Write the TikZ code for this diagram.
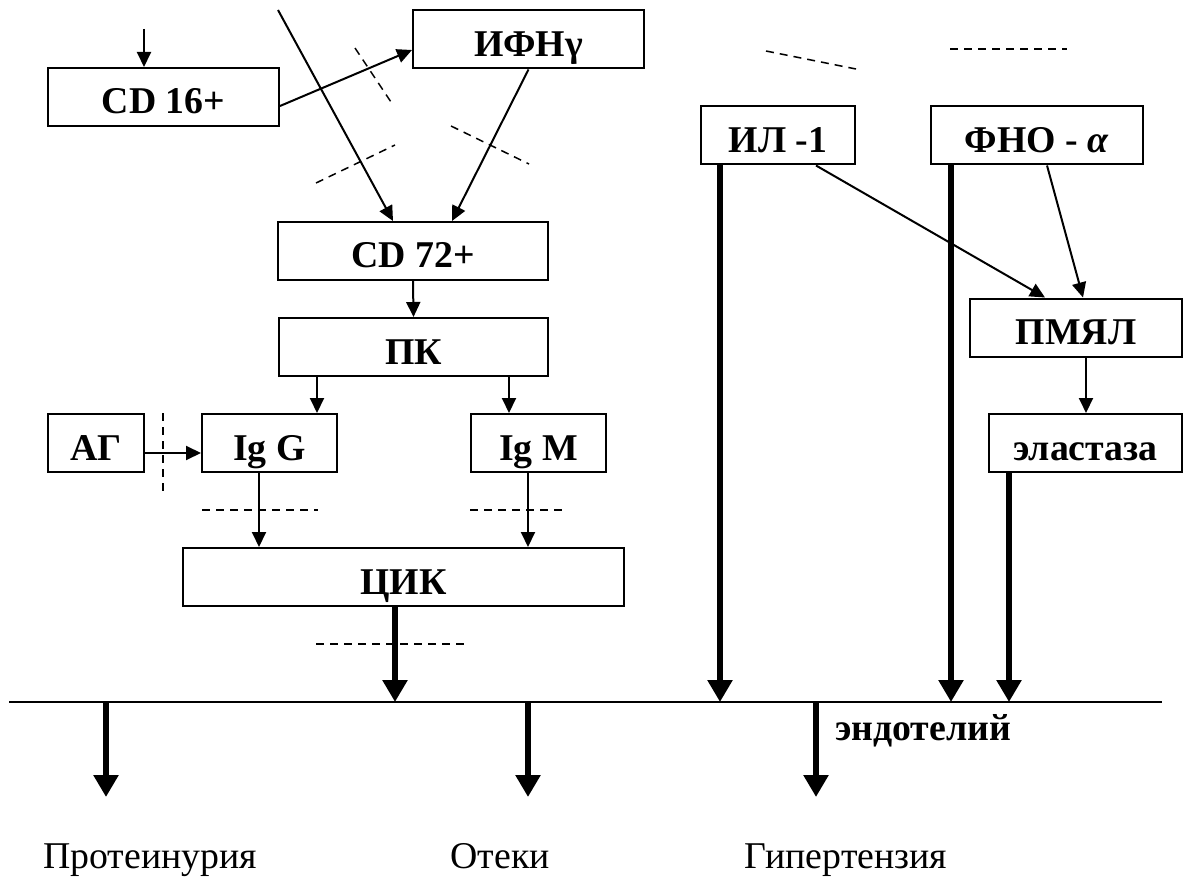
\documentclass[tikz,border=0pt]{standalone}
\usepackage{fontspec}
\setmainfont{Liberation Serif}
\usetikzlibrary{arrows.meta,calc}

\begin{document}
\begin{tikzpicture}[x=0.5pt,y=-0.5pt]
    \tikzset{box/.style = {draw, line width=1pt, minimum height=29pt, inner sep=0pt, text height=17pt, text depth=0pt, font=\fontsize{18.9}{22}\selectfont\bfseries}}
    \tikzset{edge/.style = {line width=1pt, -{Triangle[length=7.5pt,width=7pt]}}}
    \tikzset{bigedge/.style = {line width=3.25pt, -{Triangle[length=11pt,width=12pt]}}}
    \tikzset{cut/.style = {line width=0.75pt, dash pattern=on 4pt off 3pt}}
    \tikzset{outcome/.style = {anchor=base, inner sep=0pt, font=\fontsize{18.9}{22}\selectfont}}

    \useasboundingbox (0,0) rectangle (1188,877);

    \node[box, minimum width=115.5pt] (cd16) at (163.5,97) {CD 16+};
    \node[box, minimum width=115.5pt] (ifn) at (528.5,39.5) {ИФНγ};
    \node[box, minimum width=135pt] (cd72) at (413,251) {CD 72+};
    \node[box, minimum width=134.5pt] (pk) at (413.5,347) {ПК};
    \node[box, minimum width=48pt] (ag) at (96,443) {АГ};
    \node[box, minimum width=67.5pt] (igg) at (269.5,443) {Ig G};
    \node[box, minimum width=67.5pt] (igm) at (538.5,443) {Ig M};
    \node[box, minimum width=220.5pt] (cik) at (403.5,577) {ЦИК};
    \node[box, minimum width=77pt] (il) at (778,135.5) {ИЛ -1};
    \node[box, minimum width=106pt] (fno) at (1037,135.5) {ФНО - \textit{α}};
    \node[box, minimum width=106pt] (pmyal) at (1076,327.5) {ПМЯЛ};
    \node[box, minimum width=96.5pt] (elast) at (1085.5,443) {эластаза};

    \coordinate (in16) at (144,29);
    \coordinate (inlong) at (278,10);
    \coordinate (endoL) at (9,702);
    \coordinate (endoR) at (1162,702);

    \draw[edge] (in16) -- (in16 |- cd16.north);
    \draw[edge] (inlong) -- ($(cd72.north)+(-20,0)$);
    \draw[edge] ($(cd16.east)+(0,9)$) -- ($(ifn.west)+(0,10.5)$);
    \draw[edge] (ifn.south) -- ($(cd72.north)+(39,0)$);
    \draw[edge] (cd72.south) -- (pk.north);
    \draw[edge] ($(pk.south)+(-96.5,0)$) coordinate (a1) -- (a1 |- igg.north);
    \draw[edge] ($(pk.south)+(95.5,0)$) coordinate (a2) -- (a2 |- igm.north);
    \draw[edge] ($(ag.east)+(0,10)$) -- ($(igg.west)+(0,10)$);
    \draw[edge] ($(igg.south)+(-10.5,0)$) coordinate (a3) -- (a3 |- cik.north);
    \draw[edge] ($(igm.south)+(-10.5,0)$) coordinate (a4) -- (a4 |- cik.north);
    \draw[edge] ($(il.south)+(38,0)$) -- ($(pmyal.north)+(-31,0)$);
    \draw[edge] ($(fno.south)+(10,0)$) -- ($(pmyal.north)+(7,0)$);
    \draw[edge] ($(pmyal.south)+(10,0)$) coordinate (a5) -- (a5 |- elast.north);

    \draw[line width=1pt] (endoL) -- (endoR);
    \draw[bigedge] ($(cik.south)+(-8.5,0)$) coordinate (b1) -- (b1 |- endoL);
    \draw[bigedge] ($(il.south)+(-58,0)$) coordinate (b2) -- (b2 |- endoL);
    \draw[bigedge] ($(fno.south)+(-86,0)$) coordinate (b3) -- (b3 |- endoL);
    \draw[bigedge] ($(elast.south)+(-76.5,0)$) coordinate (b4) -- (b4 |- endoL);

    \node[outcome, font=\fontsize{18.9}{22}\selectfont\bfseries] (endo) at (923,740) {эндотелий};
    \node[outcome] (prot) at (150,868) {Протеинурия};
    \node[outcome] (otek) at (500,868) {Отеки};
    \node[outcome] (gip) at (846,868) {Гипертензия};

    \coordinate (d1) at (106,797);
    \coordinate (d2) at (528,797);
    \coordinate (d3) at (816,797);
    \draw[bigedge] (d1 |- endoL) -- (d1);
    \draw[bigedge] (d2 |- endoL) -- (d2);
    \draw[bigedge] (d3 |- endoL) -- (d3);

    \draw[cut] (355,48) -- (391,102);
    \draw[cut] (316,183) -- (395,145);
    \draw[cut] (451,126) -- (529,164);
    \draw[cut] (766,51) -- (856,69);
    \draw[cut] (950,49) -- (1067,49);
    \draw[cut] (163,413) -- (163,491);
    \draw[cut] (202,510) -- (318,510);
    \draw[cut] (470,510) -- (562,510);
    \draw[cut] (316,644) -- (464,644);
\end{tikzpicture}
\end{document}
